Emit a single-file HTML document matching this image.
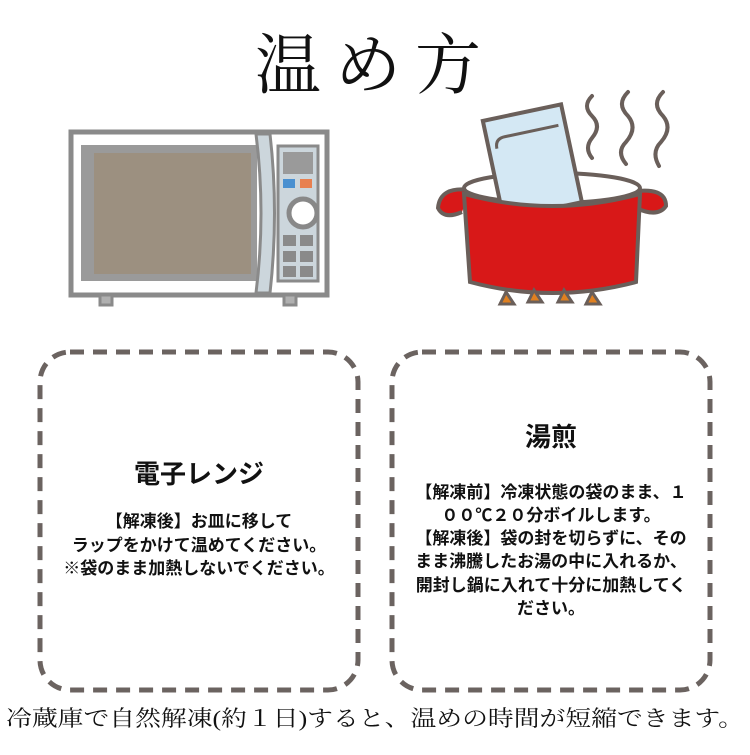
<!DOCTYPE html>
<html><head><meta charset="utf-8"><style>
body{margin:0;background:#fff;width:750px;height:750px;overflow:hidden}
</style></head><body>
<svg width="750" height="750" viewBox="0 0 750 750" xmlns="http://www.w3.org/2000/svg">
<rect width="750" height="750" fill="#fff"/>
<text x="375" y="88" text-anchor="middle" font-family="Liberation Serif, Noto Serif CJK SC, serif" font-size="66" letter-spacing="14" fill="#111">温め方</text>
<!-- microwave -->
<g stroke="#8a8a8a" stroke-width="5">
<rect x="71" y="132" width="256" height="163" fill="#fff"/>
<rect x="81" y="145" width="176" height="136" fill="#9a9a9a" stroke="none"/>
<rect x="94" y="153" width="157" height="121" fill="#9c9080" stroke="none"/>
<path d="M256 134 Q266 213 256 293 L270 293 Q279 213 270 134 Z" fill="#ccd6dc" stroke-width="3"/>
<rect x="278" y="146" width="40" height="135" fill="#ccd6dc" stroke-width="3"/>
<rect x="100" y="295" width="12" height="10" fill="#b0b0b0" stroke-width="3"/>
<rect x="284" y="295" width="12" height="10" fill="#b0b0b0" stroke-width="3"/>
</g>
<rect x="283" y="152" width="30" height="22" fill="#9a9a9a"/>
<rect x="283" y="179" width="12" height="9" fill="#4a90d0"/>
<rect x="300" y="179" width="12" height="9" fill="#e88050"/>
<circle cx="303" cy="213" r="14" fill="#fff" stroke="#888" stroke-width="5"/>
<g fill="#8a8a8a">
<rect x="283" y="235" width="13" height="11"/><rect x="300" y="235" width="13" height="11"/>
<rect x="283" y="251" width="13" height="11"/><rect x="300" y="251" width="13" height="11"/>
<rect x="283" y="266" width="13" height="11"/><rect x="300" y="266" width="13" height="11"/>
</g>
<!-- pot -->
<g stroke="#6a5f5a" stroke-width="4" fill="none" stroke-linecap="round">
<path d="M592 96 q-10 10 0 20 q10 10 0 22 q-8 10 0 20"/>
<path d="M628 92 q-12 12 0 24 q10 12 -2 26 q-10 10 0 22"/>
<path d="M663 92 q-12 12 0 24 q10 12 -2 26 q-10 10 -2 24"/>
</g>
<path d="M470 190 q-30 -4 -32 18 q6 12 24 4" fill="#d81818" stroke="#6a5f5a" stroke-width="4"/>
<path d="M630 192 q36 -6 36 14 q-8 12 -30 2" fill="#d81818" stroke="#6a5f5a" stroke-width="4"/>
<ellipse cx="552" cy="188" rx="88" ry="15" fill="#fff" stroke="#6a5f5a" stroke-width="4"/>
<g transform="rotate(-12 530 160)">
<rect x="492" y="112" width="80" height="100" fill="#d4e8f4" stroke="#6a5f5a" stroke-width="4"/>
<path d="M500 142 q0 -10 10 -10 h55" fill="none" stroke="#6a5f5a" stroke-width="3"/>
</g>
<path d="M464 194 q88 24 176 0 L636 282 q-84 22 -166 0 Z" fill="#d81818" stroke="#6a5f5a" stroke-width="4"/>
<g fill="#e08020" stroke="#6a5f5a" stroke-width="3">
<path d="M500 304 l6 -12 l8 12 z"/><path d="M528 302 l6 -12 l8 12 z"/>
<path d="M558 302 l6 -12 l8 12 z"/><path d="M586 304 l6 -12 l8 12 z"/>
</g>
<!-- boxes -->
<rect x="40" y="352" width="318" height="338" rx="30" fill="#fff" stroke="#6b6360" stroke-width="5" stroke-dasharray="14 9"/>
<rect x="392" y="352" width="318" height="338" rx="30" fill="#fff" stroke="#6b6360" stroke-width="5" stroke-dasharray="14 9"/>
<g font-family="Liberation Sans, Noto Sans CJK JP, sans-serif" fill="#111" text-anchor="middle" font-weight="bold">
<text x="199" y="483" font-size="26">電子レンジ</text>
<text x="199" y="527" font-size="17">【解凍後】お皿に移して</text>
<text x="199" y="551" font-size="17">ラップをかけて温めてください。</text>
<text x="199" y="574" font-size="17">※袋のまま加熱しないでください。</text>
<text x="551" y="446" font-size="26">湯煎</text>
<text x="551" y="498" font-size="17">【解凍前】冷凍状態の袋のまま、１</text>
<text x="551" y="521" font-size="17">００℃２０分ボイルします。</text>
<text x="551" y="544" font-size="17">【解凍後】袋の封を切らずに、その</text>
<text x="551" y="567" font-size="17">まま沸騰したお湯の中に入れるか、</text>
<text x="551" y="591" font-size="17">開封し鍋に入れて十分に加熱してく</text>
<text x="551" y="614" font-size="17">ださい。</text>
</g>
<text x="375" y="726" text-anchor="middle" font-family="Liberation Serif, Noto Serif CJK JP, serif" font-size="22" fill="#111" textLength="738" lengthAdjust="spacingAndGlyphs">冷蔵庫で自然解凍(約１日)すると、温めの時間が短縮できます。</text>
</svg>
</body></html>
